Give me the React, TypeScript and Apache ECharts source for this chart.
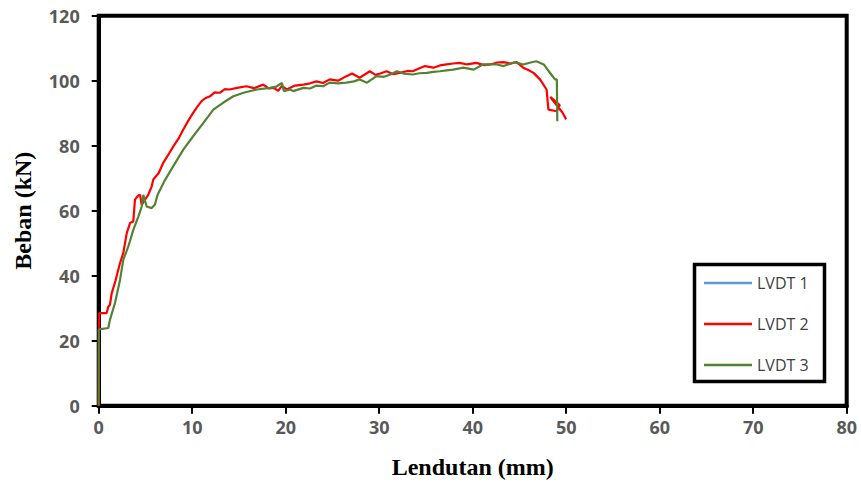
import React, { useEffect, useRef } from "react";
import * as echarts from "echarts";

const seriesNames = ["LVDT 1", "LVDT 2", "LVDT 3"];
const seriesColors = ["#5B9BD5", "#FF0000", "#548235"];

const xTicks = { min: 0, max: 80, interval: 10 };
const yTicks = { min: 0, max: 120, interval: 20 };

// LVDT 1: no visible data in the reference
const lvdt1X: number[] = [];
const lvdt1Y: number[] = [];

const lvdt2X = [0, 0.05, 0.85, 1.03, 1.2, 1.39, 1.8, 2.28, 2.63, 3.0, 3.35, 3.7, 3.88, 4.2, 4.42, 4.6, 4.95, 5.3, 5.67, 5.84, 6.4, 6.9, 7.4, 7.98, 8.5, 9.05, 9.6, 10.1, 10.5, 11.0, 11.4, 11.9, 12.4, 12.97, 13.5, 14.0, 14.8, 15.8, 16.6, 17.6, 18.2, 18.7, 19.2, 19.6, 20.1, 21.0, 21.9, 22.6, 23.3, 24.0, 24.7, 25.6, 26.5, 27.1, 27.9, 28.5, 29.0, 29.6, 30.1, 30.8, 31.5, 32.2, 33.0, 33.6, 34.3, 34.9, 35.8, 36.5, 37.2, 37.9, 38.6, 39.4, 40.4, 41.2, 41.9, 42.6, 43.3, 44.0, 44.7, 45.4, 46.0, 46.5, 47.2, 47.9, 48.1, 49.0, 49.3, 48.3, 49.6, 50.0];
const lvdt2Y = [0, 28.5, 28.5, 30.5, 31.0, 34.6, 38.5, 43.9, 47.0, 53.1, 56.2, 56.7, 63.4, 64.6, 64.9, 61.8, 63.4, 64.9, 67.5, 69.6, 71.5, 74.7, 77.0, 79.8, 82.0, 85.0, 87.8, 90.1, 91.8, 93.7, 94.6, 95.2, 96.4, 96.3, 97.4, 97.3, 97.8, 98.3, 97.7, 98.8, 97.6, 97.8, 96.9, 98.4, 97.3, 98.5, 98.8, 99.2, 99.8, 99.3, 100.4, 100.0, 101.4, 102.2, 100.9, 102.0, 102.9, 101.8, 102.2, 102.9, 102.0, 102.4, 103.0, 102.9, 103.8, 104.5, 104.0, 104.7, 105.0, 105.3, 105.5, 105.0, 105.5, 104.8, 105.0, 105.6, 105.7, 105.3, 105.7, 104.0, 103.2, 102.4, 100.4, 97.3, 91.1, 90.6, 92.5, 95.0, 90.2, 88.1];

const lvdt3X = [0, 0, 1.03, 1.2, 1.74, 2.28, 2.63, 3.17, 3.7, 4.24, 4.6, 4.77, 5.13, 5.67, 6.0, 6.3, 7.1, 7.98, 9.05, 10.1, 11.2, 12.26, 13.3, 14.4, 15.5, 16.9, 18.3, 19.0, 19.6, 19.8, 20.5, 20.8, 21.9, 22.6, 23.3, 24.0, 24.7, 25.6, 26.5, 27.3, 27.9, 28.7, 29.7, 30.5, 31.2, 31.9, 32.6, 33.6, 34.3, 35.1, 35.8, 36.5, 37.2, 37.9, 38.6, 39.0, 40.1, 41.1, 42.6, 43.3, 44.5, 45.4, 46.2, 46.8, 47.6, 48.4, 48.8, 49.0, 49.05];
const lvdt3Y = [0, 23.5, 23.9, 26.4, 31.6, 38.7, 44.9, 49.0, 54.1, 58.2, 61.3, 64.9, 61.3, 60.8, 61.8, 64.9, 69.5, 73.7, 78.8, 82.9, 87.0, 91.1, 93.2, 95.2, 96.3, 97.3, 97.8, 98.2, 99.3, 96.8, 97.3, 96.8, 97.8, 97.6, 98.5, 98.3, 99.4, 99.2, 99.4, 99.8, 100.4, 99.4, 101.4, 101.2, 101.9, 102.9, 102.2, 101.9, 102.3, 102.4, 102.7, 102.9, 103.2, 103.4, 103.8, 104.0, 103.4, 105.0, 105.0, 104.5, 105.7, 105.0, 105.6, 106.0, 105.0, 101.9, 100.4, 100.4, 87.5];

const seriesX = [lvdt1X, lvdt2X, lvdt3X];
const seriesY = [lvdt1Y, lvdt2Y, lvdt3Y];

export default function App() {
  const ref = useRef<HTMLDivElement>(null);
  useEffect(() => {
    if (!ref.current) return;
    const chart = echarts.init(ref.current, null, { renderer: "svg" });
    const tickFont = {
      fontFamily: "Open Sans",
      fontWeight: "bold" as const,
      fontSize: 18,
      color: "#595959",
    };
    const titleFont = {
      fontFamily: "Liberation Serif",
      fontWeight: "bold" as const,
      fontSize: 24,
      color: "#000",
    };
    chart.setOption({
      animation: false,
      backgroundColor: "#fff",
      grid: {
        left: 98.7,
        right: 14.3,
        top: 15.7,
        bottom: 78.3,
        show: true,
        borderColor: "#000",
        borderWidth: 4,
        containLabel: false,
      },
      legend: {
        orient: "vertical",
        left: 704,
        top: 275,
        padding: 0,
        icon: "rect",
        itemWidth: 48,
        itemHeight: 2.5,
        itemGap: 25,
        data: seriesNames,
        textStyle: { fontFamily: "Open Sans", fontSize: 16, color: "#404040" },
      },
      graphic: [
        {
          type: "rect",
          shape: { x: 694.5, y: 264.5, width: 130, height: 117 },
          style: { fill: "none", stroke: "#000", lineWidth: 3.5 },
          z: 10,
        },
      ],
      xAxis: {
        type: "value",
        min: xTicks.min,
        max: xTicks.max,
        interval: xTicks.interval,
        name: "Lendutan (mm)",
        nameLocation: "middle",
        nameGap: 49,
        nameTextStyle: titleFont,
        axisLine: { show: true, onZero: false, lineStyle: { color: "#000", width: 4 } },
        axisTick: { show: true, inside: false, length: 8, lineStyle: { color: "#000", width: 2 } },
        axisLabel: { ...tickFont, margin: 12 },
        splitLine: { show: false },
      },
      yAxis: {
        type: "value",
        min: yTicks.min,
        max: yTicks.max,
        interval: yTicks.interval,
        name: "Beban (kN)",
        nameLocation: "middle",
        nameGap: 64,
        nameTextStyle: titleFont,
        axisLine: { show: true, onZero: false, lineStyle: { color: "#000", width: 4 } },
        axisTick: { show: true, inside: false, length: 7, lineStyle: { color: "#000", width: 2 } },
        axisLabel: { ...tickFont, margin: 19 },
        splitLine: { show: false },
      },
      series: seriesNames.map((name, i) => ({
        name,
        type: "line",
        data: seriesX[i].map((x, j) => [x, seriesY[i][j]]),
        symbol: "none",
        showSymbol: false,
        lineStyle: { color: seriesColors[i], width: 2.2 },
        itemStyle: { color: seriesColors[i] },
        z: 2 + i,
      })),
    });
    return () => chart.dispose();
  }, []);
  return (
    <div
      ref={ref}
      style={{ position: "fixed", left: 0, top: 0, width: 861, height: 484 }}
    />
  );
}
